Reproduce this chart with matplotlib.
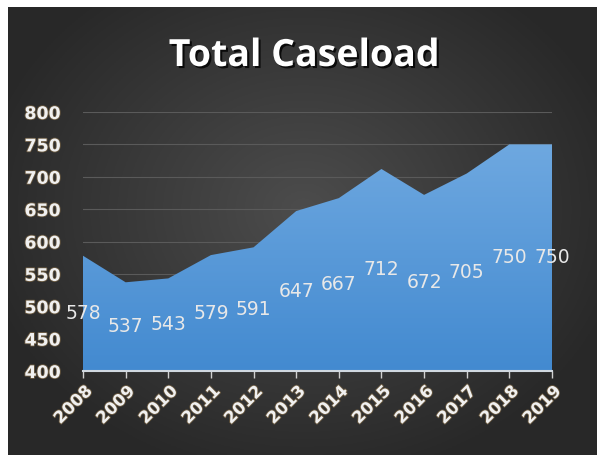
import numpy as np
import matplotlib
matplotlib.use("Agg")
import matplotlib.pyplot as plt
from matplotlib.colors import LinearSegmentedColormap
import matplotlib.patheffects as pe

years = [2008, 2009, 2010, 2011, 2012, 2013, 2014, 2015, 2016, 2017, 2018, 2019]
caseload = [578, 537, 543, 579, 591, 647, 667, 712, 672, 705, 750, 750]
yticks = [400, 450, 500, 550, 600, 650, 700, 750, 800]

fig = plt.figure(figsize=(5.97, 4.55), dpi=100)
fig.patch.set_facecolor("white")

# background radial gradient
bg = fig.add_axes([8/597, 0, 1 - 8/597, 448/455])
bg.set_axis_off()
h, w = 200, 260
yy, xx = np.mgrid[0:h, 0:w]
r = np.sqrt(((xx - w*0.5)/(w*0.55))**2 + ((yy - h*0.45)/(h*0.6))**2)
r = np.clip(r, 0, 1)
val = 0.30 - 0.14*r
img = np.dstack([val, val, val])
bg.imshow(img, aspect="auto", extent=[0, 1, 0, 1])
bg.set_xlim(0, 1); bg.set_ylim(0, 1)

ax = fig.add_axes([83/597, 1 - 371/455, (552-83)/597, (371-112)/455])
ax.patch.set_alpha(0)
ax.set_xlim(years[0], years[-1])
ax.set_ylim(400, 800)

for yv in yticks[1:]:
    ax.axhline(yv, color="#5a5a5a", lw=0.8, zorder=1)

poly = ax.fill_between(years, caseload, 400, color="none", lw=0, zorder=2)
cmap = LinearSegmentedColormap.from_list("b", ["#438ad0", "#6ea8e0"])
grad = np.linspace(0, 1, 256).reshape(-1, 1)
im = ax.imshow(grad, cmap=cmap, aspect="auto", origin="lower",
               extent=[years[0], years[-1], 400, max(caseload)], zorder=2)
im.set_clip_path(poly.get_paths()[0], transform=ax.transData)

for x, v in zip(years, caseload):
    ax.text(x, (v + 400)/2, str(v), ha="center", va="center", fontsize=13.5,
            color="#e8e8e8", zorder=5, family="DejaVu Sans")

for s in ["top", "right", "left"]:
    ax.spines[s].set_visible(False)
ax.spines["bottom"].set_color("#d0d8e0")
ax.spines["bottom"].set_linewidth(1.5)
ax.spines["bottom"].set_zorder(4)

ax.set_xticks(years)
ax.set_xticklabels([str(y) for y in years], rotation=45, ha="right",
                   rotation_mode="anchor", fontsize=12, color="#f0f0f0",
                   fontweight="bold")
ax.tick_params(axis="x", colors="#d0d0d0", length=5, width=1, pad=3,
               labelcolor="#f0f0f0")
ax.set_yticks(yticks)
ax.set_yticklabels([str(y) for y in yticks], fontsize=12.5, color="#f0f0f0",
                   fontweight="bold")
ax.tick_params(axis="y", length=0, pad=16, labelcolor="#f0f0f0")
shadow = [pe.withStroke(linewidth=1.2, foreground="#6b5a40")]
for t in ax.get_yticklabels() + ax.get_xticklabels():
    t.set_path_effects(shadow)

fig.text((163+445)/2/597, 1 - 56/455, "Total Caseload", ha="center", va="center",
         fontsize=27, fontweight="bold", color="white", family="Open Sans",
         path_effects=[pe.SimplePatchShadow(offset=(1.5, -1.5), shadow_rgbFace="black", alpha=0.8),
                       pe.Normal()])

fig.savefig("out.png", dpi=100, facecolor=fig.get_facecolor())
